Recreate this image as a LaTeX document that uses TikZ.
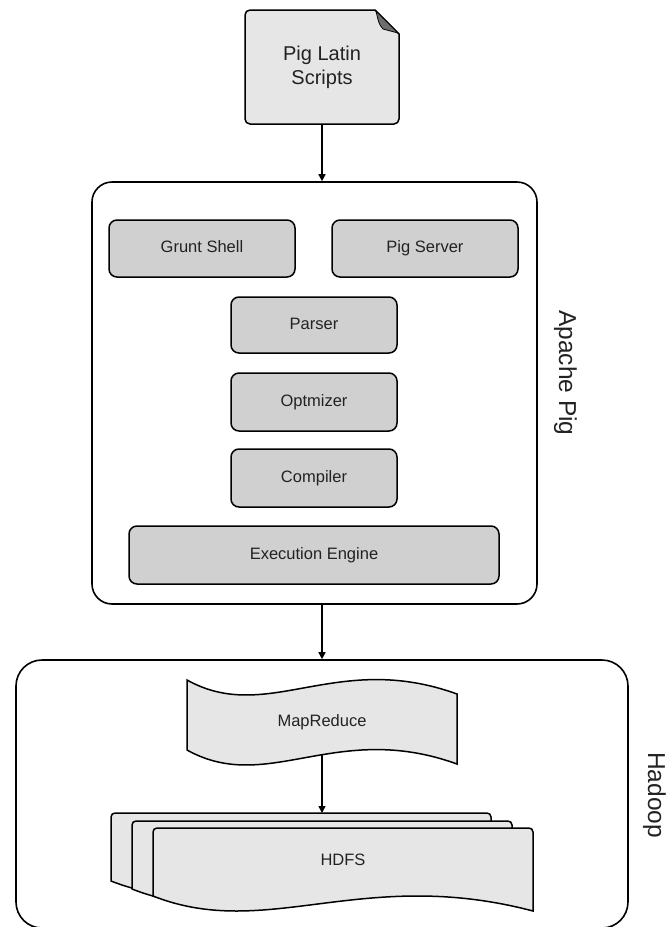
\documentclass[tikz,border=0pt]{standalone}
\usepackage{fontspec}
\setmainfont{Liberation Sans}
\usetikzlibrary{arrows.meta}
\definecolor{boxgray}{HTML}{D0D0D0}
\definecolor{docgray}{HTML}{E6E6E6}
\definecolor{foldgray}{HTML}{6E6E6E}
\definecolor{txt}{HTML}{222222}
\pgfdeclarelayer{bg}
\pgfsetlayers{bg,main}
\tikzset{
  box/.style={draw, line width=1.5pt, fill=boxgray, rounded corners=8pt, inner sep=0pt,
    text=txt, font=\fontsize{16.5}{19}\selectfont, text height=12pt, text depth=3.5pt},
  container/.style={draw, line width=1.6pt, inner sep=0pt},
  conn/.style={line width=1.5pt, -{Triangle[width=7pt,length=7pt]}},
  tapestyle/.style={draw, line width=1.5pt, fill=docgray},
  lbl/.style={text=txt, font=\fontsize{24.5}{30}\selectfont, rotate=-90, anchor=base, inner sep=0pt},
  plain/.style={text=txt, font=\fontsize{16.5}{19}\selectfont, inner sep=0pt, text height=12pt, text depth=3.5pt}
}
\newcommand\hdfsshape[2]{%
  \filldraw[tapestyle] (#1,{#2+68}) [rounded corners=4pt] -- (#1,#2) -- ({#1+380},#2) [sharp corners]
    -- ({#1+380},{#2+83}) .. controls ({#1+209},{#2+38}) and ({#1+114},{#2+113}) .. (#1,{#2+68}) -- cycle;}
\begin{document}
\begin{tikzpicture}[x=1pt,y=-1pt]
\useasboundingbox (0,0) rectangle (669,927);

% Pig Latin Scripts document
\filldraw[tapestyle] (375,10) [rounded corners=5pt] -- (245,10) -- (245,124) -- (399,124) [sharp corners] -- (399,34) -- cycle;
\filldraw[fill=foldgray, draw=black, line width=0.8pt] (376,11) -- (398,33) -- (383,29) .. controls (379,24) .. cycle;
\node[text=txt, font=\fontsize{20}{24}\selectfont, align=center, minimum width=154pt, minimum height=114pt, inner sep=0pt]
  (pls) at (322,67) {Pig Latin\\Scripts};

% Apache Pig container
\node[container, rounded corners=20pt, minimum width=445pt, minimum height=422pt] (pig) at (314.5,393) {};
\node[lbl] (pigl) at (559,373) {Apache Pig};

\node[box, minimum width=186pt, minimum height=57pt] (grunt) at (202,248.5) {Grunt Shell};
\node[box, minimum width=186pt, minimum height=57pt] (server) at (425,248.5) {Pig Server};
\node[box, minimum width=166pt, minimum height=56pt] (parser) at (314,325) {Parser};
\node[box, minimum width=166pt, minimum height=58pt] (opt) at (314,402) {Optmizer};
\node[box, minimum width=166pt, minimum height=58pt] (comp) at (314,478) {Compiler};
\node[box, minimum width=370pt, minimum height=58pt] (exec) at (314,555) {Execution Engine};

% Hadoop container
\node[container, rounded corners=26pt, minimum width=612pt, minimum height=268pt] (hadoop) at (322,794) {};
\node[lbl] (hadl) at (648,795) {Hadoop};

% MapReduce tape
\filldraw[tapestyle] (187,680) .. controls (268,725) and (335.5,650) .. (457,694)
  -- (457,764) .. controls (335.5,720) and (268,795) .. (187,750) -- cycle;
\node[plain] (mr) at (322,722) {MapReduce};

% HDFS stack
\hdfsshape{111}{813}
\hdfsshape{132}{821}
\hdfsshape{153}{828}
\node[plain] (hdfs) at (343,861) {HDFS};
\coordinate (hdfstop) at (322,813);

% connectors
\begin{pgfonlayer}{bg}
\draw[conn] (pls.south) -- (pls.south |- pig.north);
\draw[conn] (pls.south |- pig.south) -- (pls.south |- hadoop.north);
\draw[conn] (mr) -- (mr |- hdfstop);
\end{pgfonlayer}
\end{tikzpicture}
\end{document}
